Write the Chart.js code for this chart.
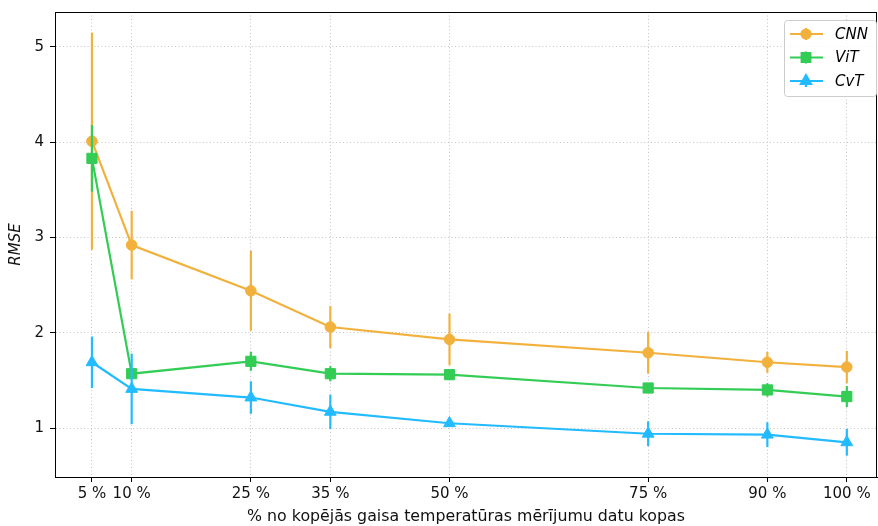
<!DOCTYPE html>
<html>
<head>
<meta charset="utf-8">
<script src="https://cdn.jsdelivr.net/npm/chart.js@4/dist/chart.umd.min.js"></script>
<style>
  html, body { margin: 0; padding: 0; background: #fff; }
  #wrap { width: 878px; height: 526px; }
</style>
</head>
<body>
<div id="wrap"><canvas id="rmseChart" width="878" height="526"></canvas></div>
<script>
// dati
const procenti = [5, 10, 25, 35, 50, 75, 90, 100];
const yTicks = [1, 2, 3, 4, 5];

const cnnMean = [4.01, 2.92, 2.44, 2.06, 1.93, 1.79, 1.69, 1.64];
const cnnErr  = [1.14, 0.36, 0.42, 0.22, 0.27, 0.22, 0.11, 0.17];
const vitMean = [3.83, 1.57, 1.70, 1.57, 1.56, 1.42, 1.40, 1.33];
const vitErr  = [0.35, 0.05, 0.10, 0.08, 0.04, 0.03, 0.07, 0.11];
const cvtMean = [1.69, 1.41, 1.32, 1.17, 1.05, 0.94, 0.93, 0.85];
const cvtErr  = [0.27, 0.37, 0.17, 0.18, 0.03, 0.13, 0.13, 0.14];

const FONT = "'DejaVu Sans', sans-serif";
const LW = 2.2;

function toPoints(mean) {
  return procenti.map((x, i) => ({ x: x, y: mean[i] }));
}

function series(label, mean, err, color, style, radius, order) {
  return {
    label: label,
    data: toPoints(mean),
    errors: err,
    borderColor: color,
    backgroundColor: color,
    borderWidth: LW,
    pointStyle: style,
    pointRadius: radius,
    pointHoverRadius: radius,
    pointBorderWidth: 1,
    pointBorderColor: color,
    pointBackgroundColor: color,
    tension: 0,
    order: order
  };
}

// kļūdu joslas caur skalām
const errorBars = {
  id: 'errorBars',
  beforeDatasetDraw(chart, args) {
    const ds = chart.data.datasets[args.index];
    const y = chart.scales.y;
    const ctx = chart.ctx;
    ctx.save();
    ctx.strokeStyle = ds.borderColor;
    ctx.lineWidth = LW;
    args.meta.data.forEach((pt, i) => {
      const v = ds.data[i].y;
      const e = ds.errors[i];
      ctx.beginPath();
      ctx.moveTo(pt.x, y.getPixelForValue(v - e));
      ctx.lineTo(pt.x, y.getPixelForValue(v + e));
      ctx.stroke();
    });
    ctx.restore();
  }
};

// rāmis un leģenda kā matplotlib
const frameLegend = {
  id: 'frameLegend',
  afterDatasetsDraw(chart) {
    const ctx = chart.ctx;
    const a = chart.chartArea;
    ctx.save();
    ctx.setLineDash([]);
    ctx.strokeStyle = '#000';
    ctx.lineWidth = 1;
    ctx.strokeRect(a.left + 0.5, a.top + 0.5, a.right - a.left - 1, a.bottom - a.top);

    // leģenda
    const bx = 784, by = 20, bw = 92, bh = 76, r = 3;
    ctx.fillStyle = 'rgba(255,255,255,0.8)';
    ctx.strokeStyle = '#cccccc';
    ctx.beginPath();
    ctx.roundRect(bx + 0.5, by + 0.5, bw, bh, r);
    ctx.fill();
    ctx.stroke();

    chart.data.datasets.forEach((ds, i) => {
      const ly = 34 + i * 23.5;
      ctx.strokeStyle = ds.borderColor;
      ctx.fillStyle = ds.borderColor;
      ctx.lineWidth = LW;
      ctx.beginPath();
      ctx.moveTo(790, ly);
      ctx.lineTo(823, ly);
      ctx.moveTo(806, ly - 6);
      ctx.lineTo(806, ly + 6);
      ctx.stroke();
      Chart.helpers.drawPoint(ctx, {
        pointStyle: ds.pointStyle,
        radius: ds.pointRadius * 0.85,
        rotation: 0,
        borderWidth: 1
      }, 806, ly);
      ctx.fillStyle = '#000';
      ctx.font = 'italic 15px ' + FONT;
      ctx.textBaseline = 'middle';
      ctx.textAlign = 'left';
      ctx.fillText(ds.label, 835, ly + 1);
    });
    ctx.restore();
  }
};

const gridOpts = {
  color: '#c4c4c4',
  lineWidth: 1,
  tickColor: '#000',
  tickBorderDash: [],
  tickLength: 5,
  drawTicks: true
};

new Chart(document.getElementById('rmseChart'), {
  type: 'line',
  data: {
    datasets: [
      series('CNN', cnnMean, cnnErr, '#f2b13c', 'circle', 5.3, 3),
      series('ViT', vitMean, vitErr, '#33cc55', 'rect', 7.2, 2),
      series('CvT', cvtMean, cvtErr, '#22bbff', 'triangle', 6.8, 1)
    ]
  },
  options: {
    responsive: false,
    animation: false,
    layout: { autoPadding: false, padding: { top: 12, right: 1, left: 0, bottom: 0 } },
    plugins: {
      legend: { display: false },
      tooltip: { enabled: false }
    },
    scales: {
      x: {
        type: 'linear',
        min: 0.35,
        max: 103.8,
        afterBuildTicks: s => { s.ticks = procenti.map(v => ({ value: v })); },
        afterFit: s => { s.height = 49; s.paddingLeft = 0; s.paddingRight = 0; },
        ticks: {
          color: '#111',
          font: { family: FONT, size: 15 },
          padding: 3,
          maxRotation: 0,
          autoSkip: false,
          callback: v => v + ' %'
        },
        grid: gridOpts,
        border: { display: true, color: '#000', width: 1, dash: [1, 2.5] },
        title: {
          display: true,
          text: '% no kopējās gaisa temperatūras mērījumu datu kopas',
          color: '#111',
          font: { family: FONT, size: 15.8 },
          padding: { top: 0, bottom: 0 }
        }
      },
      y: {
        min: 0.486,
        max: 5.366,
        afterBuildTicks: s => { s.ticks = yTicks.map(v => ({ value: v })); },
        afterFit: s => { s.width = 55; s.paddingTop = 0; s.paddingBottom = 0; },
        ticks: {
          color: '#111',
          font: { family: FONT, size: 15 },
          padding: 6
        },
        grid: gridOpts,
        border: { display: true, color: '#000', width: 1, dash: [1, 2.5] },
        title: {
          display: true,
          text: 'RMSE',
          color: '#111',
          font: { family: FONT, size: 15, style: 'italic' },
          padding: { top: 7, bottom: 0 }
        }
      }
    }
  },
  plugins: [errorBars, frameLegend]
});
</script>
</body>
</html>
